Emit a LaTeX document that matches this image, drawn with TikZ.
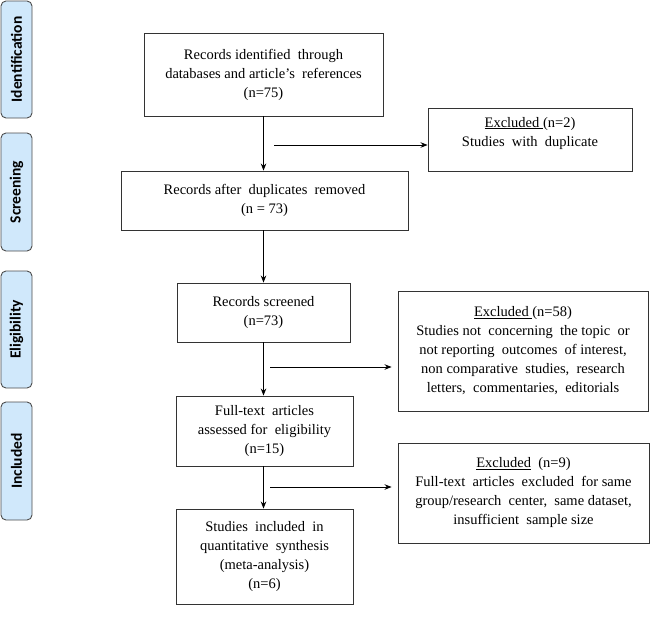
\documentclass[tikz,border=0pt]{standalone}
\usepackage{fontspec}
\setmainfont{Liberation Serif}
\newfontfamily\boxfont[Ligatures=TeX]{Liberation Serif}
\newfontfamily\stagefont{Carlito}
\usetikzlibrary{arrows.meta}
\definecolor{stagefill}{RGB}{208,232,251}
\tikzset{
  box/.style={draw=black!80, line width=0.9pt, align=center, inner sep=0pt,
    font=\boxfont\fontsize{14.5}{19}\selectfont},
  stage/.style={draw=black!70, line width=0.9pt, rounded corners=5pt, fill=stagefill,
    minimum width=31pt, inner sep=0pt, font=\stagefont\bfseries\fontsize{15.5}{17}\selectfont},
}
\begin{document}
\begin{tikzpicture}[x=1pt, y=-1pt, >={Stealth[length=7pt,width=5.5pt]}]
\useasboundingbox (0,0) rectangle (650,632);

% phases
\node (id) at (16.5,59.5) [stage, minimum height=117pt] {\rotatebox{90}{Identification}};
\node (sc) at (16.5,192) [stage, minimum height=118pt] {\rotatebox{90}{Screening}};
\node (el) at (16.5,329.5) [stage, minimum height=117pt] {\rotatebox{90}{Eligibility}};
\node (in) at (16.5,461) [stage, minimum height=118pt] {\rotatebox{90}{Included}};

% main flow
\node (found) at (263.5,74.5) [box, minimum width=239pt, minimum height=83pt]
  {Records identified\ \ through\\databases and article’s\ \ references\\(n=75)};
\node (dedup) at (264.5,200.5) [box, minimum width=287pt, minimum height=59pt]
  {Records after\ \ duplicates\ \ removed\\(n = 73)};
\node (screen) at (263.5,312.5) [box, minimum width=173pt, minimum height=59pt]
  {Records screened\\(n=73)};
\node (full) at (264.5,431) [box, minimum width=177pt, minimum height=70pt]
  {Full-text\ \ articles\\assessed for\ \ eligibility\\(n=15)};
\node (incl) at (264.5,556.5) [box, minimum width=177pt, minimum height=95pt]
  {Studies\ \ included\ \ in\\quantitative\ \ synthesis\\(meta-analysis)\\(n=6)};

% excluded
\node (exdup) at (530,139.5) [box, minimum width=204pt, minimum height=63pt, text depth=16pt]
  {\underline{Excluded\ }(n=2)\\Studies\ \ with\ \ duplicate};
\node (exscr) at (523,351) [box, minimum width=250pt, minimum height=120pt]
  {\underline{Excluded\ }(n=58)\\Studies not\ \ concerning\ \ the topic\ \ or\\not reporting\ \ outcomes\ \ of interest,\\non comparative\ \ studies,\ \ research\\letters,\ \ commentaries,\ \ editorials};
\node (exfull) at (523.5,493) [box, minimum width=251pt, minimum height=100pt]
  {\underline{Excluded}\ \ (n=9)\\Full-text\ \ articles\ \ excluded\ \ for same\\group/research\ \ center,\ \ same dataset,\\insufficient\ \ sample size};

\coordinate (o1) at (274,145);
\coordinate (o2) at (270,367);
\coordinate (o3) at (270,487);

\draw [->, line width=0.9pt] (found.south) -- (found.south |- dedup.north);
\draw [->, line width=0.9pt] (screen.north |- dedup.south) -- (screen.north);
\draw [->, line width=0.9pt] (screen.south) -- (screen.south |- full.north);
\draw [->, line width=0.9pt] (screen.south |- full.south) -- (screen.south |- incl.north);

\draw [->, line width=0.9pt] (o1) -- (o1 -| exdup.west);
\draw [->, line width=0.9pt] (o2) -- ([xshift=-6pt]o2 -| exscr.west);
\draw [->, line width=0.9pt] (o3) -- ([xshift=-6pt]o3 -| exfull.west);
\end{tikzpicture}
\end{document}
